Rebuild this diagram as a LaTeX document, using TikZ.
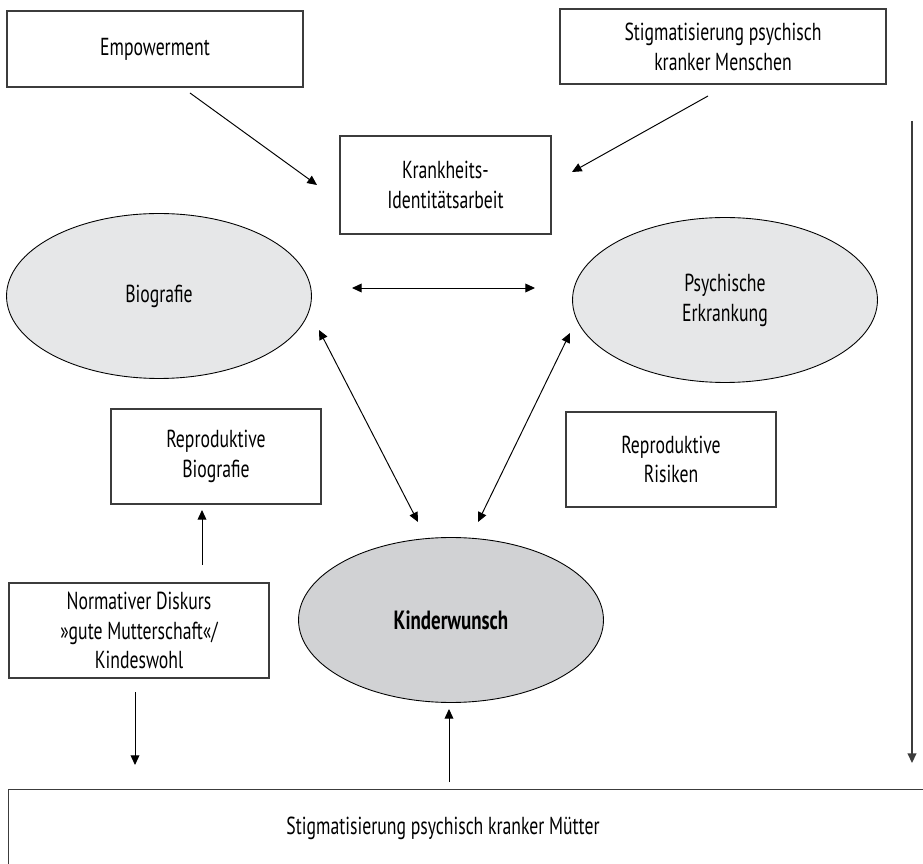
\documentclass[tikz,border=0pt]{standalone}
\usepackage{fontspec}
\setmainfont[FakeStretch=0.72]{PT Sans}
\usetikzlibrary{arrows.meta, positioning, shapes.geometric}
\definecolor{framecolor}{RGB}{60, 60, 60}
\definecolor{ovalcolor}{RGB}{230, 231, 232}
\definecolor{centercolor}{RGB}{209, 210, 212}

\begin{document}
\begin{tikzpicture}[
    x=0.02cm, y=-0.02cm,
    >={Triangle[length=5.5pt, width=5pt]},
    box/.style={rectangle, draw=framecolor, line width=0.8pt, align=center, inner sep=0pt,
                font=\fontsize{14}{17}\selectfont},
    oval/.style={ellipse, draw=black, line width=0.5pt, fill=ovalcolor, align=center, inner sep=0pt,
                 minimum width=6.1cm, minimum height=3.3cm, font=\fontsize{14}{17}\selectfont},
    arrow/.style={->, line width=0.55pt},
    twoway/.style={<->, line width=0.55pt}
]

\useasboundingbox (0,0) rectangle (923,864);

% Top row
\node[box, minimum width=5.92cm, minimum height=1.52cm] (empow) at (155,49) {Empowerment};
\node[box, minimum width=6.52cm, minimum height=1.5cm] (stigma) at (723,46.5) {Stigmatisierung psychisch\\kranker Menschen};
\node[box, minimum width=4.22cm, minimum height=1.96cm] (krank) at (445.5,185) {Krankheits-\\Identitätsarbeit};

% Ovals
\node[oval] (bio) at (159,296) {Biografie};
\node[oval] (psych) at (725,300) {Psychische\\Erkrankung};
\node[oval, fill=centercolor, font=\fontsize{15}{17}\selectfont\bfseries] (kinder) at (451,620) {Kinderwunsch};

% Side boxes
\node[box, minimum width=4.2cm, minimum height=1.9cm] (repbio) at (216,456.5) {Reproduktive\\Biografie};
\node[box, minimum width=4.2cm, minimum height=1.9cm] (reprisk) at (671,459.5) {Reproduktive\\Risiken};
\node[box, minimum width=5.2cm, minimum height=1.9cm] (normativ) at (139,630.5) {Normativer Diskurs\\»gute Mutterschaft«/\\Kindeswohl};

% Bottom (runs off the page)
\node[box, anchor=north west, minimum width=20cm, minimum height=3cm] (bottom) at (8,789) {};
\node[font=\fontsize{14}{17}\selectfont] (bottomtext) at (443,828) {Stigmatisierung psychisch kranker Mütter};

% Free ends of the connectors
\coordinate (empowEnd) at (190,93);
\coordinate (krankL) at (317,185);
\coordinate (stigmaEnd) at (708,96);
\coordinate (krankR) at (572,172);
\coordinate (bioR) at (352,288);
\coordinate (psychL) at (535,288);
\coordinate (bioLow) at (319,330);
\coordinate (kinderL) at (418,522);
\coordinate (psychLow) at (570,333);
\coordinate (kinderR) at (478,522);
\coordinate (repbioIn) at (202,510);
\coordinate (repbioOut) at (202,565);
\coordinate (normOut) at (135,692);
\coordinate (normEnd) at (135,765);
\coordinate (bottomUp) at (449,782);
\coordinate (kinderIn) at (449,709);
\coordinate (sideTop) at (912,121);
\coordinate (sideEnd) at (912,763);

\draw[arrow] (empowEnd) -- (krankL);
\draw[arrow] (stigmaEnd) -- (krankR);
\draw[twoway] (bioR) -- (psychL);
\draw[twoway] (bioLow) -- (kinderL);
\draw[twoway] (psychLow) -- (kinderR);
\draw[arrow] (repbioOut) -- (repbioIn);
\draw[arrow] (normOut) -- (normEnd);
\draw[arrow] (bottomUp) -- (kinderIn);
\draw[arrow, draw=framecolor, line width=0.8pt] (sideTop) -- (sideEnd);

\end{tikzpicture}
\end{document}
